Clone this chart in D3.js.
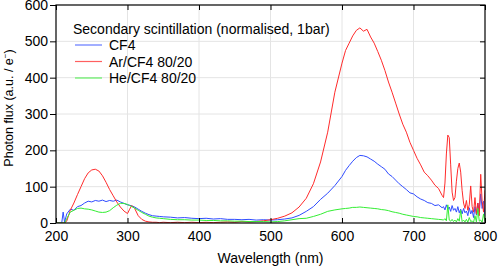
<!DOCTYPE html>
<html lang="en">
<head>
  <meta charset="UTF-8">
  <script src="https://cdn.jsdelivr.net/npm/d3@7"></script>
  <title>Secondary scintillation</title>
  <style>
    body { margin: 0; background: #fff; }
    * { font-family: 'Liberation Sans', Arial, sans-serif; }
    .tick text { font-size: 14px; fill: #000; }
  </style>
</head>
<body>
  <svg id="chart" width="498" height="269"></svg>
  <script>
    const wavelength = [200, 205, 208, 210, 212, 215, 220, 225, 230, 235, 240, 245, 250, 255, 260, 265, 270, 275, 280, 285,
      290, 295, 300, 303, 306, 310, 315, 320, 325, 330, 335, 340, 345, 350, 360, 370, 380, 390, 400, 410,
      420, 430, 440, 450, 460, 470, 480, 490, 500, 510, 520, 530, 540, 550, 560, 570, 580, 590, 600, 605,
      610, 615, 620, 625, 630, 635, 640, 645, 650, 655, 660, 665, 670, 675, 680, 685, 690, 695, 700, 705,
      710, 715, 720, 725, 730, 735, 740, 742, 744, 746, 748, 750, 752, 754, 756, 758, 760, 762, 764, 766,
      768, 770, 772, 774, 776, 778, 780, 782, 784, 786, 788, 790, 792, 794, 796, 798, 800];

    const cf4 = [0, 0, 0, 30, 2, 25, 38, 35, 45, 48, 55, 60, 58, 62, 60, 63, 59, 62, 60, 63,
      58, 54, 50, 49, 47, 44, 38, 32, 27, 23, 20, 19, 18, 17, 16, 14, 15, 13, 12, 13,
      11, 12, 10, 10, 9, 10, 8, 9, 8, 9, 11, 14, 21, 32, 45, 65, 82, 103, 128, 145,
      158, 170, 180, 186, 185, 182, 176, 170, 162, 155, 148, 135, 128, 118, 108, 100, 92, 83, 80, 72,
      66, 62, 56, 54, 48, 50, 42, 45, 36, 50, 38, 44, 32, 48, 35, 40, 30, 45, 28, 38,
      25, 40, 28, 33, 20, 42, 25, 35, 15, 45, 22, 55, 30, 80, 40, 60, 20];

    const arCf4 = [0, 0, 0, 0, 0, 5, 35, 55, 78, 100, 122, 138, 146, 148, 143, 130, 112, 92, 75, 58,
      44, 33, 26, 38, 48, 40, 20, 10, 5, 3, 2, 2, 1, 2, 1, 2, 1, 2, 1, 2,
      1, 2, 3, 2, 4, 3, 4, 6, 9, 13, 19, 28, 44, 68, 108, 168, 250, 360, 440, 475,
      495, 515, 530, 537, 528, 533, 512, 495, 472, 448, 420, 388, 360, 330, 300, 272, 250, 222, 200, 178,
      160, 140, 130, 118, 104, 95, 76, 70, 110, 190, 242, 235, 160, 85, 62, 70, 115, 150, 165, 140,
      90, 55, 40, 62, 35, 50, 102, 45, 30, 70, 25, 55, 20, 134, 60, 30, 90];

    const heCf4 = [0, 0, 0, 0, 0, 12, 30, 35, 40, 41, 39, 38, 36, 33, 30, 29, 30, 34, 42, 49,
      54, 54, 51, 48, 45, 41, 35, 29, 24, 19, 16, 14, 13, 12, 10, 9, 9, 8, 8, 7,
      7, 6, 6, 5, 5, 4, 4, 4, 3, 4, 6, 9, 12, 13, 18, 24, 32, 36, 39, 40,
      41, 43, 43, 44, 43, 42, 41, 40, 39, 37, 36, 34, 31, 29, 27, 24, 22, 20, 18, 17,
      15, 14, 13, 12, 11, 10, 9, 8, 12, 6, 50, 8, 5, 10, 4, 8, 3, 12, 5, 35,
      4, 8, 3, 10, 2, 15, 4, 6, 2, 20, 3, 40, 5, 8, 2, 25, 5];

    const seriesNames = ["CF4", "Ar/CF4 80/20", "He/CF4 80/20"];
    const seriesColors = ["#2f4cff", "#ff2b2b", "#33ee33"];
    const seriesValues = [cf4, arCf4, heCf4];

    const xTicks = [200, 300, 400, 500, 600, 700, 800];
    const yTicks = [0, 100, 200, 300, 400, 500, 600];

    const W = 498, H = 269;
    const m = { left: 56, right: 13, top: 5, bottom: 46 };
    const svg = d3.select("#chart");

    const x = d3.scaleLinear().domain([200, 800]).range([m.left, W - m.right]);
    const y = d3.scaleLinear().domain([0, 600]).range([H - m.bottom, m.top]);

    // grid
    svg.append("g").selectAll("line.gx").data(xTicks.slice(1, -1)).enter().append("line")
      .attr("x1", d => x(d)).attr("x2", d => x(d))
      .attr("y1", y(0)).attr("y2", y(600))
      .attr("stroke", "#e4e4e4").attr("stroke-width", 1);
    svg.append("g").selectAll("line.gy").data(yTicks.slice(1, -1)).enter().append("line")
      .attr("y1", d => y(d)).attr("y2", d => y(d))
      .attr("x1", x(200)).attr("x2", x(800))
      .attr("stroke", "#e4e4e4").attr("stroke-width", 1);

    // curves
    const line = d3.line().x((d, i) => x(wavelength[i])).y(d => y(d));
    svg.append("clipPath").attr("id", "clip").append("rect")
      .attr("x", x(200)).attr("y", y(600)).attr("width", x(800) - x(200)).attr("height", y(0) - y(600));
    const plot = svg.append("g").attr("clip-path", "url(#clip)");
    seriesValues.forEach((vals, k) => {
      plot.append("path").datum(vals)
        .attr("d", line)
        .attr("fill", "none")
        .attr("stroke", seriesColors[k])
        .attr("stroke-width", 1)
        .attr("stroke-linejoin", "round");
    });

    // axes: inward ticks on bottom/top/right, outward on left
    svg.append("g").attr("transform", `translate(0,${y(0)})`)
      .call(d3.axisBottom(x).tickValues(xTicks).tickSize(-5).tickPadding(8))
      .call(g => g.select(".domain").remove());
    svg.append("g").attr("transform", `translate(0,${y(600)})`)
      .call(d3.axisTop(x).tickValues(xTicks).tickSize(-5).tickFormat(""))
      .call(g => g.select(".domain").remove());
    svg.append("g").attr("transform", `translate(${x(200)},0)`)
      .call(d3.axisLeft(y).tickValues(yTicks).tickSize(6).tickPadding(2))
      .call(g => g.select(".domain").remove());
    svg.append("g").attr("transform", `translate(${x(800)},0)`)
      .call(d3.axisRight(y).tickValues(yTicks).tickSize(-5).tickFormat(""))
      .call(g => g.select(".domain").remove());
    svg.selectAll(".tick line").attr("stroke", "#000").attr("stroke-width", 1);

    svg.append("rect")
      .attr("x", x(200)).attr("y", y(600))
      .attr("width", x(800) - x(200)).attr("height", y(0) - y(600))
      .attr("fill", "none").attr("stroke", "#000").attr("stroke-width", 1.2);

    // axis titles
    svg.append("text")
      .attr("x", (x(200) + x(800)) / 2).attr("y", 263)
      .attr("text-anchor", "middle").attr("font-size", 14)
      .text("Wavelength (nm)");
    const yl = svg.append("text")
      .attr("transform", `translate(13,108) rotate(-90)`)
      .attr("text-anchor", "middle").attr("font-size", 12.5);
    yl.append("tspan").text("Photon flux (a.u. / e");
    yl.append("tspan").attr("dy", -5).attr("font-size", 8).text("−");
    yl.append("tspan").attr("dy", 5).text(")");

    // legend
    const lg = svg.append("g");
    lg.append("text").attr("x", 73).attr("y", 34).attr("font-size", 14)
      .text("Secondary scintillation (normalised, 1bar)");
    seriesNames.forEach((name, k) => {
      const cy = 45 + k * 16.5;
      lg.append("line").attr("x1", 75).attr("x2", 102).attr("y1", cy).attr("y2", cy)
        .attr("stroke", seriesColors[k]).attr("stroke-width", 1.2).attr("opacity", 0.75);
      lg.append("text").attr("x", 109).attr("y", cy + 5).attr("font-size", 14).text(name);
    });
  </script>
</body>
</html>
